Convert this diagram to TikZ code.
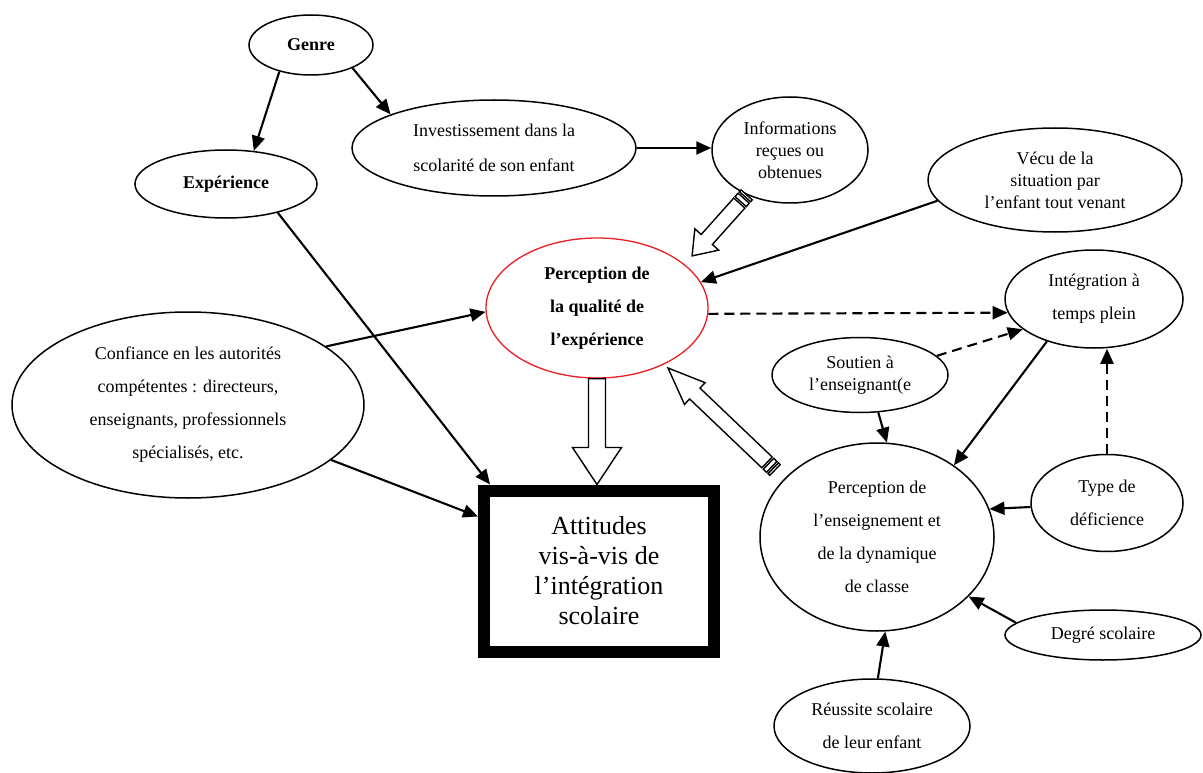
\documentclass[tikz,border=0pt]{standalone}
\usepackage{fontspec}
\setmainfont{Liberation Serif}
\usetikzlibrary{shapes.geometric, arrows.meta, calc}
\definecolor{redline}{RGB}{235,30,35}
\newcommand{\hollowarrow}[6]{%
  \path let \p1=(#1), \p2=(#2) in \pgfextra{%
     \pgfmathparse{atan2(\y2-\y1,\x2-\x1)}\xdef\haang{\pgfmathresult}%
     \pgfmathparse{veclen(\x2-\x1,\y2-\y1)}\xdef\halen{\pgfmathresult}};
  \begin{scope}[shift={(#1)}, rotate=\haang, x=1pt, y=1pt]
    \pgfmathsetmacro\hb{\halen-#5}%
    \ifnum#6=1
      \draw[hollow] (0,-#3/2) rectangle (2.5,#3/2);
      \draw[hollow] (4.5,-#3/2) rectangle (9,#3/2);
      \def\hs{11}%
    \else
      \def\hs{0}%
    \fi
    \draw[hollow] (\hs,-#3/2) -- (\hb,-#3/2) -- (\hb,-#4/2) -- (\halen,0) -- (\hb,#4/2) -- (\hb,#3/2) -- (\hs,#3/2) -- cycle;
  \end{scope}}
\begin{document}
\begin{tikzpicture}[x=1pt, y=-1pt,
  ell/.style={draw, ellipse, line width=1.5pt, inner sep=0pt, align=center, font=\fontsize{18}{33}\selectfont},
  ellt/.style={ell, font=\fontsize{18}{22}\selectfont},
  boldtext/.style={font=\fontsize{18}{33}\selectfont\bfseries},
  arr/.style={line width=2.1pt, -{Triangle[length=15pt,width=13pt]}},
  darr/.style={arr, dash pattern=on 10pt off 6pt},
  hollow/.style={draw=black, fill=white, line width=1.4pt, line join=miter}]

\useasboundingbox (0,0) rectangle (1203,773);

\node[ell, boldtext, minimum width=124pt, minimum height=60pt] (genre) at (311,45) {Genre};
\node[ell, boldtext, minimum width=182pt, minimum height=68pt] (exper) at (226,184) {Expérience};
\node[ell, minimum width=284pt, minimum height=96pt, font=\fontsize{18}{35}\selectfont] (invest) at (494,148) {Investissement dans la\\scolarité de son enfant};
\node[ellt, minimum width=156pt, minimum height=106pt] (info) at (790,150) {Informations\\reçues ou\\obtenues};
\node[ellt, minimum width=254pt, minimum height=104pt] (vecu) at (1055,180) {Vécu de la\\situation par\\l’enfant tout venant};
\node[ell, boldtext, draw=redline, line width=1.3pt, minimum width=222pt, minimum height=140pt] (percq) at (597,308) {Perception de\\la qualité de\\l’expérience};
\node[ell, minimum width=178pt, minimum height=98pt] (integ) at (1094,299) {Intégration à\\temps plein};
\node[ellt, minimum width=176pt, minimum height=75pt] (soutien) at (860,375) {Soutien à\\l’enseignant(e};
\node[ell, minimum width=352pt, minimum height=186pt] (conf) at (188,405) {Confiance en les autorités\\compétentes : directeurs,\\enseignants, professionnels\\spécialisés, etc.};
\node[ell, minimum width=234pt, minimum height=188pt] (percE) at (877,537) {Perception de\\l’enseignement et\\de la dynamique\\de classe};
\node[ell, minimum width=152pt, minimum height=97pt] (typed) at (1107,503) {Type de\\déficience};
\node[ell, minimum width=196pt, minimum height=50pt] (degre) at (1103,635) {Degré scolaire};
\node[ell, minimum width=196pt, minimum height=94pt] (reuss) at (872,726) {Réussite scolaire\\de leur enfant};
\node[draw, line width=12pt, minimum width=230pt, minimum height=161pt, align=center, font=\fontsize{26}{30}\selectfont, inner sep=0pt] (att) at (599,571) {Attitudes\\vis-à-vis de\\l’intégration\\scolaire};

\draw[arr] (genre.220) -- (exper.50);
\draw[arr] (genre.331) -- (invest.162);
\draw[arr] (invest.east) -- (invest.east -| info.west);
\draw[arr] (exper.331) -- ($(att.north west)!0.05!(att.north east)$);
\draw[arr] (conf.23) -- (percq.182);
\draw[arr] (conf.339) -- ($(att.north west)!0.185!(att.south west)$);
\draw[arr] (vecu.190) -- (percq.14);
\draw[darr] (percq.357) -- (integ.189);
\draw[darr] (soutien.14) -- (integ.203);
\draw[darr] (typed.north) -- (typed.north |- integ.south);
\draw[arr] (integ.222) -- (percE.43);
\draw[arr] (soutien.296) -- (percE.84);
\draw[arr] (typed.183) -- (percE.14);
\draw[arr] (degre.172) -- (percE.327);
\draw[arr] (reuss.83) -- (percE.275);

\coordinate (h1tip) at (692,256);
\hollowarrow{info.226}{h1tip}{15}{32}{22}{1}
\coordinate (h2tail) at (775,470);
\coordinate (h2tip) at (668,368);
\hollowarrow{h2tail}{h2tip}{15}{30}{37}{1}
\hollowarrow{percq.south}{percq.south |- att.north}{17}{49}{37}{0}
\end{tikzpicture}
\end{document}
